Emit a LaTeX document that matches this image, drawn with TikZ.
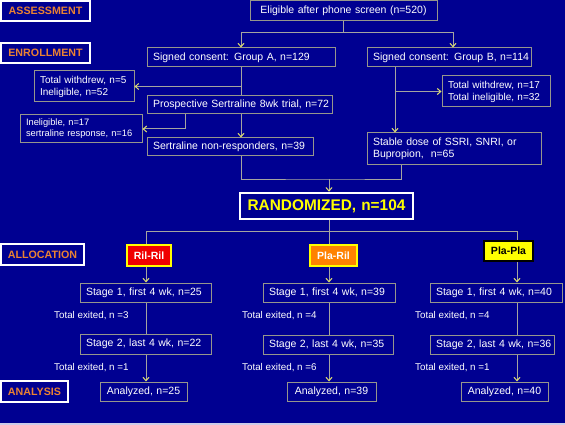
\documentclass[tikz,border=0pt]{standalone}
\usepackage{fontspec}
\setmainfont{Liberation Sans}
\usetikzlibrary{arrows.meta}
\definecolor{bg}{RGB}{0,0,145}
\definecolor{bord}{RGB}{150,150,140}
\definecolor{lnc}{RGB}{165,165,160}
\definecolor{tipc}{RGB}{225,225,110}
\definecolor{lblor}{RGB}{235,130,50}
\definecolor{ylw}{RGB}{255,255,0}
\definecolor{rred}{RGB}{240,0,0}
\definecolor{orng}{RGB}{255,130,0}
\tikzset{
  box/.style={draw=bord, line width=1pt, fill=bg, text=white, inner xsep=6pt, inner ysep=0pt,
    align=left, font=\fontsize{10.5}{12.5}\selectfont},
  cbox/.style={box, align=center},
  smallbox/.style={box, font=\fontsize{10}{12}\selectfont},
  tinybox/.style={box, font=\fontsize{9.3}{11}\selectfont},
  hdr/.style={box, draw=white, line width=2pt, text=lblor, align=center,
    font=\bfseries\fontsize{10.7}{12}\selectfont},
  randbox/.style={box, draw=white, line width=2.5pt, text=ylw, align=center,
    font=\bfseries\fontsize{15.4}{17}\selectfont},
  armbox/.style={box, line width=1.5pt, align=center, inner xsep=2pt,
    font=\bfseries\fontsize{10.5}{12}\selectfont},
  exitlbl/.style={text=white, inner sep=0pt, anchor=west, font=\fontsize{9.8}{11}\selectfont},
  lin/.style={draw=lnc, line width=1pt},
  arr/.style={lin, -{Straight Barb[length=3.5pt,width=6pt,line width=1pt,color=tipc]}}
}
% #1 style, #2 name, #3 x1, #4 y1, #5 x2, #6 y2, #7 text
\newcommand\mybox[7][]{%
  \node[box,#1,minimum width={(#5-#3)*1pt},minimum height={(#6-#4)*1pt},
    text width={(#5-#3)*1pt-2*\pgfkeysvalueof{/pgf/inner xsep}}]
    (#2) at ({(#3+#5)/2},{(#4+#6)/2}) {#7};}
\begin{document}
\begin{tikzpicture}[x=1pt,y=-1pt]
\fill[bg] (0,0) rectangle (565,425);
\fill[white!80!bg] (0,423) rectangle (565,425);
\useasboundingbox (0,0) rectangle (565,425);

% stage headers
\mybox[hdr]{assess}{1}{1}{90}{21}{\mbox{ASSESSMENT}}
\mybox[hdr]{enroll}{1}{43}{90}{63}{\mbox{ENROLLMENT}}
\mybox[hdr]{alloc}{1}{244}{84}{265}{\mbox{ALLOCATION}}
\mybox[hdr]{analys}{1}{381}{68}{402}{\mbox{ANALYSIS}}

% enrollment
\mybox[cbox]{elig}{250}{1}{437}{21}{\mbox{Eligible after phone screen (n=520)}}
\mybox{gA}{147}{48}{335}{67}{\mbox{Signed consent: Group A, n=129}}
\mybox{gB}{367}{48}{531}{67}{\mbox{Signed consent: Group B, n=114}}
\mybox[smallbox]{wA}{34}{71}{134}{102}{\mbox{Total withdrew, n=5}\\\mbox{Ineligible, n=52}}
\mybox{pros}{147}{96}{332}{114}{\mbox{Prospective Sertraline 8wk trial, n=72}}
\mybox[tinybox]{inel}{20}{115}{142}{143}{\mbox{Ineligible, n=17}\\\mbox{sertraline response, n=16}}
\mybox{nonr}{147}{138}{313}{156}{\mbox{Sertraline non-responders, n=39}}
\mybox[smallbox]{wB}{442}{76}{550}{107}{\mbox{Total withdrew, n=17}\\\mbox{Total ineligible, n=32}}
\mybox{stab}{367}{133}{541}{165}{\mbox{Stable dose of SSRI, SNRI, or}\\\mbox{Bupropion,\ \ n=65}}

% randomization
\mybox[randbox]{rand}{240}{193}{413}{219}{\mbox{RANDOMIZED, n=104}}
\mybox[armbox,fill=rred,draw=ylw,text=white]{rr}{127}{245}{171}{266}{\mbox{Ril-Ril}}
\mybox[armbox,fill=orng,draw=ylw,text=white]{pr}{310}{245}{357}{266}{\mbox{Pla-Ril}}
\mybox[armbox,fill=ylw,draw=black,text=black]{pp}{484}{241}{533}{261}{\mbox{Pla-Pla}}

% stages
\mybox{s1a}{80}{283}{211}{302}{\mbox{Stage 1, first 4 wk, n=25}}
\mybox{s1b}{263}{283}{395}{302}{\mbox{Stage 1, first 4 wk, n=39}}
\mybox{s1c}{430}{283}{562}{302}{\mbox{Stage 1, first 4 wk, n=40}}
\mybox{s2a}{80}{334}{211}{354}{\mbox{Stage 2, last 4 wk, n=22}}
\mybox{s2b}{263}{335}{393}{354}{\mbox{Stage 2, last 4 wk, n=35}}
\mybox{s2c}{430}{335}{554}{354}{\mbox{Stage 2, last 4 wk, n=36}}
\mybox[cbox]{ana}{100}{382}{187}{401}{\mbox{Analyzed, n=25}}
\mybox[cbox]{anb}{287}{382}{376}{401}{\mbox{Analyzed, n=39}}
\mybox[cbox]{anc}{461}{382}{548}{401}{\mbox{Analyzed, n=40}}

\node[exitlbl] (ea1) at (54,316) {Total exited, n =3};
\node[exitlbl] (ea2) at (54,368) {Total exited, n =1};
\node[exitlbl] (eb1) at (242,316) {Total exited, n =4};
\node[exitlbl] (eb2) at (242,368) {Total exited, n =6};
\node[exitlbl] (ec1) at (415,316) {Total exited, n =4};
\node[exitlbl] (ec2) at (415,368) {Total exited, n =1};

% connectors: enrollment
\coordinate (sp) at (343,33);
\draw[lin] (elig.south -| sp) -- (sp);
\draw[arr] (sp) -| (gA.north);
\draw[arr] (sp) -| ([xshift=4pt]gB.north);
\draw[lin] (gA.south) -- (gA.south |- pros.north);
\draw[arr] (gA.south |- wA.east) -- (wA.east);
\coordinate (ci) at (185,0);
\draw[arr] (pros.south -| ci) |- (inel.east);
\draw[arr] (gA.south |- pros.south) -- (gA.south |- nonr.north);
\coordinate (cB) at (395,0);
\draw[arr] (gB.south -| cB) -- (stab.north -| cB);
\draw[arr] (cB |- wB.west) -- (wB.west);
\coordinate (jn) at (329,179);
\coordinate (cs) at (401,0);
\draw[lin] (gA.south |- nonr.south) |- (jn) -| (cs |- stab.south);
\draw[arr] (jn) -- (jn |- rand.north);

% connectors: allocation
\coordinate (ra) at (146,231);
\coordinate (rb) at (329,231);
\coordinate (rc) at (517,231);
\draw[lin] (rb |- rand.south) -- (rb);
\draw[lin] (ra) -- (rc);
\draw[lin] (ra) -- (ra |- rr.north);
\draw[lin] (rb) -- (rb |- pr.north);
\draw[lin] (rc) -- (rc |- pp.north);
\draw[arr] (ra |- rr.south) -- (ra |- s1a.north);
\draw[arr] (rb |- pr.south) -- (rb |- s1b.north);
\draw[arr] (rc |- pp.south) -- (rc |- s1c.north);
\draw[lin] (ra |- s1a.south) -- (ra |- s2a.north);
\draw[lin] (rb |- s1b.south) -- (rb |- s2b.north);
\draw[lin] (rc |- s1c.south) -- (rc |- s2c.north);
\draw[arr] (ra |- s2a.south) -- (ra |- ana.north);
\draw[arr] (rb |- s2b.south) -- (rb |- anb.north);
\draw[arr] (rc |- s2c.south) -- (rc |- anc.north);
\end{tikzpicture}
\end{document}
